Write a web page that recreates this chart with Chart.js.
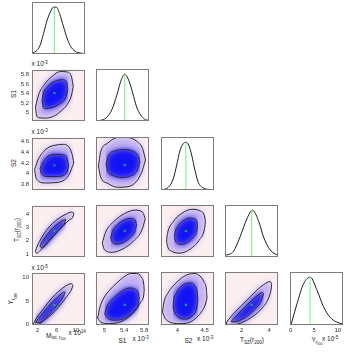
<!DOCTYPE html>
<html>
<head>
<meta charset="utf-8">
<script src="https://cdn.jsdelivr.net/npm/chart.js@4.4.1/dist/chart.umd.min.js"></script>
<style>
  html, body { margin: 0; padding: 0; background: #fff; }
  #stage { position: relative; width: 346px; height: 361px; overflow: hidden;
           font-family: 'Liberation Sans', Arial, sans-serif; color: #222; }
  #stage canvas { position: absolute; }
  .lbl { position: absolute; white-space: nowrap; line-height: 1; font-size: 6.5px; }
  .lbl sub { font-size: 70%; vertical-align: -0.4em; line-height: 0; }
  .lbl sup { font-size: 70%; vertical-align: 0.5em; line-height: 0; }
  .rot { transform: translate(-50%, -50%) rotate(-90deg); }
</style>
</head>
<body>
<div id="stage">
  <!-- exponent notes above the y axes -->
  <div class="lbl" style="left:31.5px;top:61px">x 10<sup>-3</sup></div>
  <div class="lbl" style="left:31.5px;top:129px">x 10<sup>-3</sup></div>
  <div class="lbl" style="left:31.5px;top:264.5px">x 10<sup>-5</sup></div>

  <!-- y axis titles -->
  <div class="lbl rot" style="left:14px;top:94px">S1</div>
  <div class="lbl rot" style="left:14px;top:163px">S2</div>
  <div class="lbl rot" style="left:17px;top:230px">T<sub>SZ</sub>(r<sub>200</sub>)</div>
  <div class="lbl rot" style="left:12px;top:299px">Y<sub>r<sub>500</sub></sub></div>

  <!-- x axis titles -->
  <div class="lbl" style="left:46px;top:332.5px">M<sub>tot, r<sub>500</sub></sub></div>
  <div class="lbl" style="left:68.5px;top:330px">x 10<sup>14</sup></div>
  <div class="lbl" style="left:118.5px;top:338px">S1</div>
  <div class="lbl" style="left:132.5px;top:336px">x 10<sup>-3</sup></div>
  <div class="lbl" style="left:184.5px;top:338px">S2</div>
  <div class="lbl" style="left:197px;top:336px">x 10<sup>-3</sup></div>
  <div class="lbl" style="left:240px;top:337px">T<sub>SZ</sub>(r<sub>200</sub>)</div>
  <div class="lbl" style="left:311.5px;top:337px">Y<sub>r<sub>500</sub></sub></div>
  <div class="lbl" style="left:322px;top:336px">x 10<sup>-5</sup></div>
</div>
<script>
/* ============================================
   DATA  (parameter order: M_tot, S1, S2, T_SZ, Y)
   S1, S2 in units of 1e-3, M in 1e14, Y in 1e-5
============================================ */
const AXIS_MIN = [0.82, 4.83, 3.70, 0.78, -0.12];
const AXIS_MAX = [11.9, 5.90, 4.67, 4.65, 11.12];

const TICKS_X_M  = [2, 6, 10];
const TICKS_X_S1 = [5, 5.4, 5.8];
const TICKS_X_S2 = [4, 4.5];
const TICKS_X_T  = [2, 4];
const TICKS_X_Y  = [0, 5, 10];
const TICKS_Y_S1 = [5, 5.2, 5.4, 5.6, 5.8];
const TICKS_Y_S2 = [3.8, 4, 4.2, 4.4, 4.6];
const TICKS_Y_T  = [1, 2, 3, 4];
const TICKS_Y_Y  = [0, 5, 10];

const TRUTH      = [5.5, 5.41, 4.155, 2.73, 4.15];
const TRUTH_PEAK = [0.99, 1.0, 1.0, 1.0, 1.0];
const MARG_TOP   = 1.11;

// 1D marginals
const MARG_M_X  = [0.82, 1.87, 2.55, 3.24, 3.95, 4.64, 5.33, 5.90, 6.59, 7.42, 8.14, 8.82, 9.87, 10.92, 11.82];
const MARG_M_Y  = [0.02, 0.077, 0.196, 0.44, 0.71, 0.895, 1.0, 1.0, 0.86, 0.58, 0.34, 0.175, 0.056, 0.021, 0.007];
const MARG_S1_X = [4.83, 4.95, 5.05, 5.15, 5.25, 5.33, 5.41, 5.49, 5.57, 5.65, 5.73, 5.81, 5.90];
const MARG_S1_Y = [0.004, 0.02, 0.08, 0.24, 0.55, 0.85, 1.0, 0.87, 0.6, 0.3, 0.13, 0.04, 0.01];
const MARG_S2_X = [3.713, 3.834, 3.925, 3.987, 4.048, 4.109, 4.158, 4.207, 4.262, 4.322, 4.383, 4.474, 4.597, 4.675];
const MARG_S2_Y = [0, 0.057, 0.234, 0.52, 0.83, 0.97, 1.0, 0.94, 0.73, 0.41, 0.16, 0.043, 0.007, 0];
const MARG_T_X  = [0.78, 1.39, 1.88, 2.37, 2.78, 3.22, 3.59, 4.08, 4.65];
const MARG_T_Y  = [0.03, 0.12, 0.43, 0.81, 1.0, 0.78, 0.43, 0.15, 0.03];
const MARG_Y_X  = [0.11, 1.38, 2.78, 4.19, 5.6, 7.0, 8.4, 9.8, 11.1];
const MARG_Y_Y  = [0.01, 0.45, 0.87, 1.0, 0.73, 0.38, 0.16, 0.06, 0.02];

// 2D contours (outer / inner level), each split into an upper and a lower edge
const M_S1_OUT_UP = [[1.55,5.12],[2.21,5.38],[3.41,5.59],[5.03,5.76],[6.78,5.86],[8.19,5.85],[9.10,5.74],[9.45,5.55]];
const M_S1_OUT_LO = [[1.55,5.12],[1.75,4.96],[2.21,4.90],[3.62,4.89],[5.37,4.93],[6.93,5.04],[8.19,5.175],[9.03,5.35],[9.45,5.55]];
const M_S1_IN_UP  = [[2.9,5.25],[3.14,5.38],[4.11,5.55],[5.52,5.65],[7.14,5.69],[8.04,5.64],[8.32,5.48]];
const M_S1_IN_LO  = [[2.9,5.25],[3.2,5.12],[3.62,5.09],[5.03,5.11],[6.63,5.19],[7.83,5.31],[8.32,5.48]];

const M_S2_OUT_UP = [[1.35,4.08],[2.20,4.28],[3.96,4.47],[5.69,4.53],[7.42,4.545],[9.18,4.37],[9.55,4.2]];
const M_S2_OUT_LO = [[1.35,4.08],[1.72,3.91],[3.60,3.83],[6.05,3.84],[8.47,3.97],[9.55,4.2]];
const M_S2_IN_UP  = [[2.5,4.1],[3.60,4.28],[5.69,4.36],[7.78,4.34],[8.5,4.16]];
const M_S2_IN_LO  = [[2.5,4.1],[2.70,4.03],[3.96,3.95],[6.05,3.95],[8.14,4.03],[8.5,4.16]];

const S1_S2_OUT_UP = [[4.88,4.14],[4.92,4.38],[5.07,4.56],[5.27,4.66],[5.47,4.66],[5.67,4.58],[5.77,4.46],[5.83,4.25]];
const S1_S2_OUT_LO = [[4.88,4.14],[4.92,3.95],[5.07,3.82],[5.27,3.75],[5.47,3.76],[5.65,3.86],[5.75,4.02],[5.83,4.25]];
const S1_S2_IN_UP  = [[5.03,4.17],[5.09,4.34],[5.23,4.42],[5.39,4.44],[5.55,4.42],[5.67,4.34],[5.72,4.21]];
const S1_S2_IN_LO  = [[5.03,4.17],[5.07,4.04],[5.19,3.96],[5.35,3.93],[5.51,3.95],[5.65,4.04],[5.72,4.21]];

const M_T_OUT_UP = [[1.51,1.17],[1.93,1.61],[2.76,2.19],[3.81,2.78],[5.06,3.29],[6.53,3.72],[7.99,4.02],[9.04,4.16],[9.56,4.09]];
const M_T_OUT_LO = [[1.51,1.17],[1.82,1.06],[2.55,1.28],[3.60,1.64],[4.85,2.15],[6.11,2.67],[7.36,3.14],[8.62,3.58],[9.45,3.87],[9.56,4.09]];
const M_T_IN_UP  = [[2.45,1.61],[3.18,2.05],[4.02,2.48],[5.06,2.92],[6.11,3.25],[7.15,3.51],[7.88,3.61]];
const M_T_IN_LO  = [[2.45,1.61],[2.87,1.50],[3.81,1.79],[4.85,2.23],[5.90,2.63],[6.94,3.03],[7.68,3.36],[7.88,3.61]];

const S1_T_OUT_UP = [[4.955,1.79],[5.024,2.63],[5.19,3.42],[5.41,4.02],[5.624,4.27],[5.775,4.10],[5.824,3.61]];
const S1_T_OUT_LO = [[4.955,1.79],[5.004,1.31],[5.155,1.13],[5.369,1.38],[5.59,1.98],[5.755,2.78],[5.824,3.61]];
const S1_T_IN_UP  = [[5.127,2.22],[5.163,2.69],[5.26,3.17],[5.394,3.52],[5.523,3.65],[5.618,3.53],[5.652,3.18]];
const S1_T_IN_LO  = [[5.127,2.22],[5.161,1.88],[5.256,1.75],[5.388,1.88],[5.519,2.23],[5.616,2.71],[5.652,3.18]];

const S2_T_OUT_UP = [[3.802,2.05],[3.819,2.53],[3.918,3.37],[4.081,4.03],[4.265,4.33],[4.421,4.20],[4.505,3.66],[4.513,3.35]];
const S2_T_OUT_LO = [[3.802,2.05],[3.81,1.74],[3.896,1.21],[4.05,1.07],[4.234,1.37],[4.397,2.03],[4.496,2.87],[4.513,3.35]];
const S2_T_IN_UP  = [[3.945,2.30],[3.956,2.60],[4.015,3.10],[4.114,3.50],[4.223,3.68],[4.315,3.60],[4.366,3.28],[4.37,3.10]];
const S2_T_IN_LO  = [[3.945,2.30],[3.951,2.13],[4.0,1.80],[4.092,1.72],[4.201,1.91],[4.30,2.30],[4.36,2.80],[4.37,3.10]];

const M_Y_OUT_UP = [[0.88,-0.36],[1.72,1.34],[2.97,3.04],[4.23,4.74],[5.69,6.44],[7.15,7.72],[8.41,8.57],[9.1,8.75],[9.39,8.36]];
const M_Y_OUT_LO = [[0.88,-0.36],[2.14,-0.04],[3.81,1.23],[5.48,2.72],[6.94,4.42],[8.2,6.13],[9.03,7.40],[9.39,8.36]];
const M_Y_IN_UP  = [[1.51,0.38],[2.35,1.55],[3.39,2.83],[4.64,4.32],[5.90,5.59],[6.94,6.55],[7.57,6.98],[7.8,6.85]];
const M_Y_IN_LO  = [[1.51,0.38],[2.35,0.38],[3.60,1.34],[4.85,2.62],[6.11,4.11],[7.15,5.59],[7.67,6.66],[7.8,6.85]];

const S1_Y_OUT_UP = [[4.864,1.34],[4.905,3.47],[4.986,5.59],[5.107,7.29],[5.248,8.78],[5.39,10.06],[5.531,10.80],[5.652,10.80],[5.743,10.06],[5.794,8.57],[5.804,7.29]];
const S1_Y_OUT_LO = [[4.864,1.34],[4.925,0.49],[5.107,0.17],[5.309,0.49],[5.49,1.55],[5.632,3.04],[5.733,4.74],[5.794,6.23],[5.804,7.29]];
const S1_Y_IN_UP  = [[5.006,2.19],[5.046,3.68],[5.127,4.96],[5.248,6.23],[5.39,7.29],[5.511,7.72],[5.612,7.51],[5.682,6.66],[5.703,5.59]];
const S1_Y_IN_LO  = [[5.006,2.19],[5.066,1.34],[5.208,0.91],[5.369,1.13],[5.511,1.98],[5.632,3.25],[5.692,4.53],[5.703,5.59]];

const S2_Y_OUT_UP = [[3.727,2.62],[3.755,4.74],[3.828,6.66],[3.938,8.36],[4.066,9.74],[4.194,10.59],[4.322,10.80],[4.414,10.27],[4.487,9.0],[4.533,7.29],[4.542,5.59]];
const S2_Y_OUT_LO = [[3.727,2.62],[3.773,1.34],[3.865,0.49],[4.048,0.17],[4.231,0.49],[4.359,1.55],[4.45,2.83],[4.514,4.32],[4.542,5.59]];
const S2_Y_IN_UP  = [[3.92,3.47],[3.929,4.96],[3.975,6.55],[4.057,7.93],[4.158,8.68],[4.258,8.78],[4.331,7.93],[4.368,6.44],[4.377,5.17]];
const S2_Y_IN_LO  = [[3.92,3.47],[3.965,2.19],[4.048,1.34],[4.158,1.13],[4.267,1.77],[4.341,3.04],[4.377,5.17]];

const T_Y_OUT_UP = [[0.853,0.28],[1.073,1.13],[1.44,2.41],[1.88,3.68],[2.32,4.96],[2.76,6.23],[3.20,7.51],[3.565,8.36],[3.86,8.89],[4.08,9.10],[4.19,8.57]];
const T_Y_OUT_LO = [[0.853,0.28],[1.073,-0.15],[1.586,-0.04],[2.17,0.59],[2.686,1.45],[3.126,2.40],[3.49,3.47],[3.82,4.74],[4.04,6.23],[4.15,7.51],[4.19,8.57]];
const T_Y_IN_UP  = [[1.22,0.59],[1.513,1.55],[1.953,2.83],[2.393,4.11],[2.83,5.38],[3.20,6.23],[3.49,6.76],[3.60,6.55]];
const T_Y_IN_LO  = [[1.22,0.59],[1.586,0.59],[2.10,1.23],[2.54,2.08],[2.90,3.04],[3.235,4.11],[3.455,5.27],[3.60,6.55]];

/* lookup tables built from the arrays above */
const X_TICKS = [TICKS_X_M, TICKS_X_S1, TICKS_X_S2, TICKS_X_T, TICKS_X_Y];
const Y_TICKS = [null, TICKS_Y_S1, TICKS_Y_S2, TICKS_Y_T, TICKS_Y_Y];
const MARG_X = [MARG_M_X, MARG_S1_X, MARG_S2_X, MARG_T_X, MARG_Y_X];
const MARG_Y = [MARG_M_Y, MARG_S1_Y, MARG_S2_Y, MARG_T_Y, MARG_Y_Y];
const CONTOURS = {
    '1,0': [M_S1_OUT_UP, M_S1_OUT_LO, M_S1_IN_UP, M_S1_IN_LO],
    '2,0': [M_S2_OUT_UP, M_S2_OUT_LO, M_S2_IN_UP, M_S2_IN_LO],
    '2,1': [S1_S2_OUT_UP, S1_S2_OUT_LO, S1_S2_IN_UP, S1_S2_IN_LO],
    '3,0': [M_T_OUT_UP, M_T_OUT_LO, M_T_IN_UP, M_T_IN_LO],
    '3,1': [S1_T_OUT_UP, S1_T_OUT_LO, S1_T_IN_UP, S1_T_IN_LO],
    '3,2': [S2_T_OUT_UP, S2_T_OUT_LO, S2_T_IN_UP, S2_T_IN_LO],
    '4,0': [M_Y_OUT_UP, M_Y_OUT_LO, M_Y_IN_UP, M_Y_IN_LO],
    '4,1': [S1_Y_OUT_UP, S1_Y_OUT_LO, S1_Y_IN_UP, S1_Y_IN_LO],
    '4,2': [S2_Y_OUT_UP, S2_Y_OUT_LO, S2_Y_IN_UP, S2_Y_IN_LO],
    '4,3': [T_Y_OUT_UP, T_Y_OUT_LO, T_Y_IN_UP, T_Y_IN_LO]
};

/* ============================================
   LAYOUT
============================================ */
const PANEL_LEFT = [32, 96, 161, 225, 290];
const PANEL_TOP = [2, 69, 137, 205, 272];
const PANEL_W = 53;
const PANEL_H = [52, 52, 53, 52, 53];
const PAD_L = 30, PAD_T = 6, PAD_R = 10, PAD_B = 16;
const TICK_FONT = { family: "'Liberation Sans', Arial, sans-serif", size: 6 };

const pts = arr => arr.map(p => ({ x: p[0], y: p[1] }));

/* ============================================
   PANEL PLUGIN: pink background, blurred fills, frame
============================================ */
function setBlur(chart, i) {
    const ds = chart.data.datasets[i];
    chart.ctx.filter = ds && ds.blur ? 'blur(' + ds.blur + 'px)' : 'none';
}

const panelPlugin = {
    id: 'panel',
    beforeDraw(chart, args, opts) {
        if (!opts.bg) return;
        const { ctx, chartArea: a } = chart;
        ctx.save();
        ctx.fillStyle = opts.bg;
        ctx.fillRect(a.left, a.top, a.width, a.height);
        ctx.restore();
    },
    // filler paints a dataset's area before this plugin's hook runs,
    // so the filter for dataset i is armed when i + 1 finishes
    beforeDatasetsDraw(chart) { setBlur(chart, chart.data.datasets.length - 1); },
    beforeDatasetDraw(chart) { chart.ctx.filter = 'none'; },
    afterDatasetDraw(chart, args) { setBlur(chart, args.index - 1); },
    afterDatasetsDraw(chart) { chart.ctx.filter = 'none'; },
    afterDraw(chart) {
        const { ctx, chartArea: a } = chart;
        ctx.save();
        ctx.strokeStyle = '#7d7d7d';
        ctx.lineWidth = 1;
        ctx.strokeRect(Math.round(a.left) + 0.5, Math.round(a.top) + 0.5,
                       Math.round(a.width) - 1, Math.round(a.height) - 1);
        ctx.restore();
    }
};

function makeCanvas(r, c) {
    const cv = document.createElement('canvas');
    const w = PAD_L + PANEL_W + PAD_R;
    const h = PAD_T + PANEL_H[r] + PAD_B;
    cv.width = w;
    cv.height = h;
    cv.style.width = w + 'px';
    cv.style.height = h + 'px';
    cv.style.left = (PANEL_LEFT[c] - PAD_L) + 'px';
    cv.style.top = (PANEL_TOP[r] - PAD_T) + 'px';
    document.getElementById('stage').appendChild(cv);
    return cv;
}

function xAxis(c, showTicks) {
    return {
        type: 'linear', min: AXIS_MIN[c], max: AXIS_MAX[c], z: 1,
        grid: { display: false, drawTicks: false },
        border: { display: false },
        ticks: { display: showTicks, autoSkip: false, maxRotation: 0, padding: 2,
                 color: '#333', font: TICK_FONT, callback: v => String(v) },
        afterBuildTicks: s => { s.ticks = X_TICKS[c].map(v => ({ value: v })); },
        afterFit: s => { s.height = PAD_B; }
    };
}

function yAxis(min, max, ticks, showTicks) {
    return {
        type: 'linear', min, max, z: 1,
        grid: { display: false, drawTicks: false },
        border: { display: false },
        ticks: { display: showTicks, autoSkip: false, padding: 3,
                 color: '#333', font: TICK_FONT, callback: v => String(v) },
        afterBuildTicks: s => { if (ticks) s.ticks = ticks.map(v => ({ value: v })); },
        afterFit: s => { s.width = PAD_L; }
    };
}

function baseOptions(x, y, bg) {
    return {
        responsive: false,
        animation: false,
        devicePixelRatio: 1,
        layout: { padding: { top: PAD_T, right: PAD_R, left: 0, bottom: 0 } },
        elements: { point: { radius: 0 } },
        plugins: { legend: { display: false }, tooltip: { enabled: false }, panel: { bg } },
        scales: { x, y }
    };
}

/* ============================================
   DIAGONAL: 1D MARGINALS
============================================ */
function buildMarginal(i) {
    const xs = MARG_X[i], ys = MARG_Y[i];
    new Chart(makeCanvas(i, i), {
        type: 'line',
        data: {
            datasets: [
                { data: [{ x: TRUTH[i], y: 0 }, { x: TRUTH[i], y: TRUTH_PEAK[i] }],
                  borderColor: '#74f274', borderWidth: 1, fill: false },
                { data: xs.map((x, k) => ({ x, y: ys[k] })),
                  borderColor: '#1c1c1c', borderWidth: 1, fill: false,
                  cubicInterpolationMode: 'monotone' }
            ]
        },
        options: baseOptions(xAxis(i, i === 4), yAxis(0, MARG_TOP, null, false), null),
        plugins: [panelPlugin]
    });
}

/* ============================================
   OFF-DIAGONAL: 2D CONTOURS
============================================ */
function buildJoint(r, c) {
    const [outUp, outLo, inUp, inLo] = CONTOURS[r + ',' + c];
    const line = { borderColor: '#2a2a2a', borderWidth: 1, fill: false, cubicInterpolationMode: 'monotone' };
    const area = { borderWidth: 0, cubicInterpolationMode: 'monotone' };
    new Chart(makeCanvas(r, c), {
        type: 'line',
        data: {
            datasets: [
                { data: [{ x: TRUTH[c], y: TRUTH[r] }], showLine: false, pointStyle: 'crossRot',
                  pointRadius: 1.6, borderColor: '#1fc24a', borderWidth: 1 },
                { ...line, data: pts(inLo) },
                { ...line, data: pts(inUp) },
                { ...line, data: pts(outLo) },
                { ...line, data: pts(outUp) },
                { ...area, data: pts(inUp), fill: 1, backgroundColor: '#1212f4', blur: 3 },
                { ...area, data: pts(inUp), fill: 1, backgroundColor: '#7668f0', blur: 1.5 },
                { ...area, data: pts(outUp), fill: 3, backgroundColor: '#c4b3f2', blur: 2.5 },
                { ...area, data: pts(outUp), fill: 3, backgroundColor: '#ebe0f6', blur: 5 }
            ]
        },
        options: baseOptions(xAxis(c, r === 4),
                             yAxis(AXIS_MIN[r], AXIS_MAX[r], Y_TICKS[r], c === 0), '#fcefef'),
        plugins: [panelPlugin]
    });
}

/* ============================================
   INIT
============================================ */
document.addEventListener('DOMContentLoaded', () => {
    for (let i = 0; i < 5; i++) buildMarginal(i);
    for (let r = 1; r < 5; r++) {
        for (let c = 0; c < r; c++) buildJoint(r, c);
    }
});
</script>
</body>
</html>
